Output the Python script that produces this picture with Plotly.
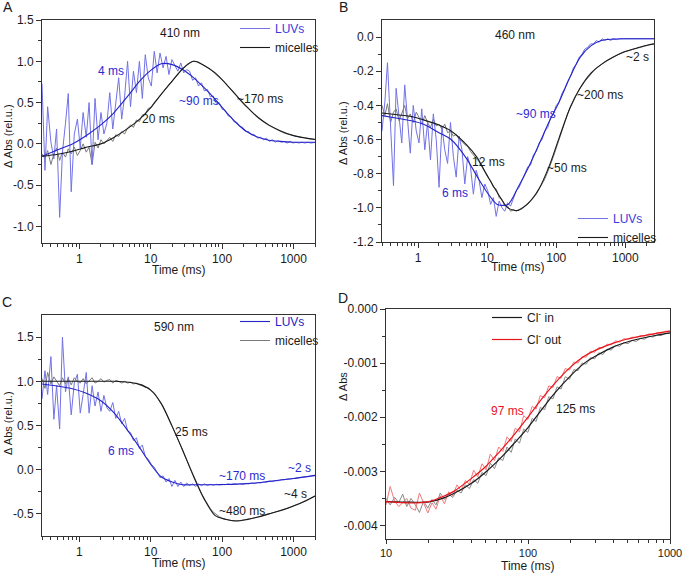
import math
import plotly.graph_objects as go

# ---------------- data ----------------
# common time grid (ms) of the raw traces in panels A-C
t_raw = [0.30, 0.33, 0.36, 0.40, 0.44, 0.48, 0.53, 0.58, 0.64, 0.70,
         0.77, 0.85, 0.94, 1.03, 1.13, 1.25, 1.37, 1.51, 1.66, 1.83,
         2.01, 2.21, 2.43, 2.67, 2.94, 3.24, 3.56, 3.92, 4.31, 4.74,
         5.21, 5.73, 6.31, 6.94, 7.63, 8.39, 9.23, 10.2, 11.2, 12.3,
         13.5, 14.9, 16.4, 18.0, 19.8, 21.8, 24.0, 26.4, 29.0, 31.9,
         35.1, 38.6, 42.5, 46.7, 51.4, 56.5, 62.2, 68.4, 75.2, 82.8,
         91.0, 100, 110, 121, 133, 146, 161, 177, 195, 214,
         236, 259, 285, 314, 345, 380, 418, 459, 505, 556,
         612, 673, 740, 814, 895, 985, 1083, 1191, 1310, 1441,
         1585, 1744, 1918, 2110, 2321, 2553, 2808, 3000]

# time points of the fitted curves (panels A-C)
t_fit = [0.3, 0.5, 0.8, 1.2, 2, 3, 5, 7, 10, 14, 20, 28, 40, 56, 80, 110,
         160, 220, 320, 450, 650, 1000, 1500, 2200, 3000]

# Panel A, 410 nm
a_luv_raw = [0.73, -0.32, 0.45, 0.02, -0.18, 0.18, -0.89, -0.10, 0.25, 0.61,
             -0.58, 0.12, 0.30, -0.05, 0.38, 0.08, 0.50, -0.25, 0.55, 0.05,
             0.38, 0.12, 0.25, 0.62, 0.18, 0.48, 0.80, 0.30, 0.58, 1.00,
             0.45, 0.88, 0.62, 1.00, 0.55, 1.08, 0.80, 0.70, 1.12, 0.86,
             1.10, 0.92, 1.06, 0.84, 1.02, 0.95, 0.88, 0.98, 0.86, 0.90,
             0.88, 0.77, 0.80, 0.70, 0.74, 0.64, 0.66, 0.57, 0.58, 0.49,
             0.50, 0.42, 0.41, 0.34, 0.33, 0.27, 0.26, 0.21, 0.20, 0.15,
             0.15, 0.11, 0.11, 0.07, 0.08, 0.05, 0.07, 0.03, 0.05, 0.02,
             0.04, 0.02, 0.03, 0.01, 0.03, 0.01, 0.02, 0.01, 0.02, 0.01,
             0.02, 0.01, 0.02, 0.02, 0.02, 0.02, 0.02, 0.02]
a_mic_raw = [-0.12, -0.18, -0.08, -0.25, -0.12, -0.05, -0.20, -0.10, -0.16, -0.06,
             -0.12, -0.04, -0.14, -0.08, 0.00, -0.10, -0.04, -0.25, 0.02, -0.05,
             0.05, 0.00, 0.04, 0.08, 0.03, 0.11, 0.09, 0.15, 0.12, 0.19,
             0.23, 0.20, 0.29, 0.27, 0.35, 0.36, 0.43, 0.44, 0.50, 0.54,
             0.58, 0.63, 0.67, 0.72, 0.76, 0.81, 0.85, 0.89, 0.93, 0.96,
             0.98, 1.00, 1.00, 0.99, 0.97, 0.95, 0.93, 0.90, 0.87, 0.84,
             0.81, 0.78, 0.74, 0.70, 0.66, 0.62, 0.58, 0.54, 0.50, 0.46,
             0.42, 0.39, 0.35, 0.32, 0.29, 0.26, 0.24, 0.22, 0.20, 0.18,
             0.16, 0.15, 0.13, 0.12, 0.11, 0.10, 0.09, 0.085, 0.08, 0.07,
             0.065, 0.06, 0.055, 0.05, 0.05, 0.05, 0.05, 0.05]
a_luv_fit = [-0.15, -0.07, 0.0, 0.09, 0.23, 0.37, 0.60, 0.76, 0.89, 0.97, 0.96, 0.90,
             0.80, 0.68, 0.54, 0.40, 0.25, 0.15, 0.08, 0.045, 0.03, 0.02, 0.02, 0.02, 0.02]
a_mic_fit = [-0.15, -0.125, -0.09, -0.045, 0.0, 0.075, 0.20, 0.30, 0.44, 0.60, 0.76, 0.91,
             1.00, 0.95, 0.86, 0.74, 0.58, 0.45, 0.32, 0.23, 0.16, 0.10, 0.07, 0.05, 0.045]

# Panel B, 460 nm
b_luv_raw = [-0.55, -0.38, -0.15, -0.52, -0.87, -0.30, -0.45, -0.62, -0.28, -0.50,
             -0.68, -0.40, -0.55, -0.62, -0.42, -0.66, -0.50, -0.72, -0.45, -0.60,
             -0.88, -0.52, -0.66, -0.74, -0.50, -0.70, -0.82, -0.58, -0.66, -0.86,
             -0.70, -0.76, -0.92, -0.78, -0.84, -0.94, -0.86, -0.90, -0.98, -0.94,
             -1.05, -0.96, -1.00, -1.02, -0.97, -0.99, -0.94, -0.90, -0.88, -0.84,
             -0.81, -0.76, -0.75, -0.69, -0.67, -0.62, -0.60, -0.55, -0.53, -0.47,
             -0.45, -0.40, -0.38, -0.33, -0.30, -0.26, -0.23, -0.18, -0.16, -0.12,
             -0.10, -0.07, -0.06, -0.04, -0.04, -0.02, -0.03, -0.01, -0.02, -0.01,
             -0.02, -0.01, -0.015, -0.01, -0.01, -0.01, -0.01, -0.01, -0.01, -0.01,
             -0.01, -0.01, -0.01, -0.01, -0.01, -0.01, -0.01, -0.01]
b_mic_raw = [-0.40, -0.46, -0.39, -0.50, -0.44, -0.42, -0.49, -0.45, -0.40, -0.48,
             -0.45, -0.50, -0.44, -0.47, -0.51, -0.46, -0.50, -0.53, -0.48, -0.52,
             -0.51, -0.54, -0.51, -0.56, -0.55, -0.58, -0.57, -0.60, -0.61, -0.63,
             -0.64, -0.67, -0.69, -0.71, -0.73, -0.76, -0.79, -0.82, -0.84, -0.88,
             -0.89, -0.94, -0.95, -0.99, -0.99, -1.02, -1.01, -1.02, -1.01, -1.00,
             -0.99, -0.98, -0.96, -0.94, -0.92, -0.89, -0.86, -0.83, -0.79, -0.75,
             -0.70, -0.65, -0.60, -0.54, -0.49, -0.45, -0.41, -0.37, -0.34, -0.31,
             -0.28, -0.26, -0.24, -0.22, -0.20, -0.18, -0.17, -0.155, -0.145, -0.135,
             -0.125, -0.115, -0.105, -0.10, -0.09, -0.085, -0.08, -0.075, -0.07, -0.065,
             -0.06, -0.055, -0.05, -0.047, -0.044, -0.041, -0.038, -0.036]
b_luv_fit = [-0.46, -0.475, -0.49, -0.51, -0.56, -0.60, -0.71, -0.81, -0.91, -0.98, -0.98,
             -0.88, -0.76, -0.63, -0.49, -0.38, -0.23, -0.12, -0.05, -0.02, -0.012, -0.01,
             -0.01, -0.01, -0.01]
b_mic_fit = [-0.445, -0.455, -0.465, -0.485, -0.515, -0.55, -0.63, -0.70, -0.81, -0.91, -1.00,
             -1.015, -0.97, -0.89, -0.75, -0.59, -0.41, -0.30, -0.21, -0.16, -0.12, -0.085,
             -0.063, -0.045, -0.036]

# Panel C, 590 nm
c_luv_raw = [0.80, 1.12, 0.85, 1.28, 0.57, 0.95, 0.46, 1.50, 0.88, 1.05,
             0.62, 0.98, 1.08, 0.64, 0.85, 1.10, 0.64, 0.95, 0.72, 0.88,
             0.66, 0.84, 0.70, 0.66, 0.76, 0.58, 0.66, 0.52, 0.58, 0.44,
             0.42, 0.33, 0.36, 0.24, 0.28, 0.15, 0.12, 0.06, 0.03, -0.03,
             -0.09, -0.07, -0.14, -0.10, -0.19, -0.12, -0.19, -0.14, -0.19, -0.15,
             -0.18, -0.16, -0.19, -0.16, -0.18, -0.16, -0.18, -0.165, -0.175, -0.165,
             -0.17, -0.165, -0.17, -0.16, -0.17, -0.16, -0.165, -0.16, -0.165, -0.155,
             -0.16, -0.15, -0.155, -0.145, -0.15, -0.14, -0.14, -0.13, -0.135, -0.125,
             -0.125, -0.115, -0.115, -0.105, -0.105, -0.10, -0.095, -0.09, -0.085, -0.08,
             -0.075, -0.07, -0.065, -0.06, -0.057, -0.053, -0.05, -0.05]
c_mic_raw = [1.03, 0.92, 1.10, 0.97, 1.05, 1.00, 0.95, 1.04, 0.97, 1.03,
             0.96, 1.04, 1.00, 0.98, 1.03, 0.97, 1.01, 1.04, 0.98, 1.00,
             1.03, 0.99, 1.01, 1.02, 0.98, 1.01, 1.00, 0.98, 1.00, 0.98,
             0.99, 0.97, 0.98, 0.96, 0.96, 0.93, 0.93, 0.89, 0.87, 0.82,
             0.77, 0.71, 0.64, 0.57, 0.50, 0.43, 0.35, 0.27, 0.19, 0.11,
             0.03, -0.05, -0.12, -0.20, -0.27, -0.33, -0.39, -0.44, -0.48, -0.51,
             -0.53, -0.55, -0.56, -0.57, -0.575, -0.58, -0.58, -0.575, -0.57, -0.565,
             -0.56, -0.55, -0.545, -0.535, -0.53, -0.52, -0.51, -0.50, -0.49, -0.48,
             -0.47, -0.46, -0.45, -0.44, -0.425, -0.41, -0.40, -0.385, -0.37, -0.355,
             -0.34, -0.32, -0.305, -0.29, -0.27, -0.25, -0.23, -0.22]
c_luv_fit = [0.97, 0.945, 0.915, 0.87, 0.78, 0.65, 0.42, 0.25, 0.06, -0.08, -0.14, -0.17,
             -0.17, -0.17, -0.17, -0.168, -0.163, -0.158, -0.148, -0.132, -0.117, -0.10,
             -0.08, -0.06, -0.05]
c_mic_fit = [1.0, 1.0, 1.0, 1.0, 1.0, 1.0, 0.99, 0.965, 0.90, 0.75, 0.49, 0.22, -0.08,
             -0.33, -0.52, -0.56, -0.58, -0.565, -0.535, -0.50, -0.465, -0.41, -0.35,
             -0.28, -0.22]

# Panel D (values in units of 10^-3 Abs)
d_t_raw = [10, 10.7, 11.5, 12.3, 13.1, 14.0, 15.0, 16.1, 17.2, 18.4,
           19.7, 21.1, 22.5, 24.1, 25.8, 27.6, 29.5, 31.6, 33.8, 36.2,
           38.7, 41.4, 44.3, 47.4, 50.7, 54.3, 58.1, 62.1, 66.5, 71.1,
           76.1, 81.4, 87.1, 93.2, 99.8, 107, 114, 122, 131, 140,
           150, 160, 171, 183, 196, 210, 225, 240, 257, 275,
           295, 315, 337, 361, 386, 413, 442, 473, 506, 541,
           579, 620, 663, 710, 759, 812, 869, 930, 995]
d_out_raw_m = [-3.62, -3.28, -3.55, -3.65, -3.58, -3.50, -3.68, -3.72, -3.40, -3.60,
               -3.77, -3.58, -3.70, -3.45, -3.60, -3.38, -3.45, -3.25, -3.36, -3.17,
               -3.24, -2.98, -3.10, -2.86, -2.97, -2.68, -2.80, -2.55, -2.63, -2.36,
               -2.45, -2.20, -2.27, -1.97, -2.04, -1.80, -1.85, -1.60, -1.64, -1.42,
               -1.45, -1.25, -1.28, -1.10, -1.13, -0.98, -1.00, -0.88, -0.89, -0.78,
               -0.80, -0.71, -0.72, -0.65, -0.66, -0.59, -0.61, -0.55, -0.56, -0.52,
               -0.53, -0.49, -0.50, -0.46, -0.47, -0.44, -0.45, -0.41, -0.41]
d_in_raw_m = [-3.50, -3.62, -3.48, -3.58, -3.42, -3.65, -3.50, -3.62, -3.76, -3.55,
              -3.68, -3.52, -3.62, -3.40, -3.52, -3.42, -3.48, -3.35, -3.40, -3.25,
              -3.32, -3.15, -3.22, -3.02, -3.08, -2.85, -2.95, -2.75, -2.80, -2.55,
              -2.65, -2.40, -2.48, -2.22, -2.28, -2.02, -2.08, -1.82, -1.86, -1.62,
              -1.66, -1.44, -1.48, -1.25, -1.30, -1.12, -1.14, -1.00, -1.02, -0.90,
              -0.92, -0.81, -0.84, -0.74, -0.76, -0.67, -0.69, -0.62, -0.64, -0.58,
              -0.60, -0.54, -0.56, -0.50, -0.52, -0.48, -0.49, -0.45, -0.45]
d_t_fit = [10, 15, 20, 25, 30, 40, 50, 60, 70, 80, 100, 120, 150, 200, 250, 300, 400,
           500, 600, 800, 1000]
d_out_fit_m = [-3.56, -3.585, -3.56, -3.47, -3.37, -3.13, -2.92, -2.70, -2.50, -2.32,
               -2.00, -1.72, -1.41, -1.07, -0.87, -0.76, -0.63, -0.555, -0.51, -0.45, -0.41]
d_in_fit_m = [-3.56, -3.57, -3.565, -3.50, -3.41, -3.22, -3.02, -2.83, -2.65, -2.48,
              -2.19, -1.92, -1.59, -1.23, -1.00, -0.87, -0.70, -0.61, -0.555, -0.485, -0.44]

# tick labels
x_ticks_abc = [1, 10, 100, 1000]
x_ticklabels_abc = ["1", "10", "100", "1000"]
x_ticks_d = [10, 100, 1000]
x_ticklabels_d = ["10", "100", "1000"]
y_ticks_a = [-1.0, -0.5, 0.0, 0.5, 1.0, 1.5]
y_ticklabels_a = ["-1.0", "-0.5", "0.0", "0.5", "1.0", "1.5"]
y_ticks_b = [-1.2, -1.0, -0.8, -0.6, -0.4, -0.2, 0.0]
y_ticklabels_b = ["-1.2", "-1.0", "-0.8", "-0.6", "-0.4", "-0.2", "0.0"]
y_ticks_c = [-0.5, 0.0, 0.5, 1.0, 1.5]
y_ticklabels_c = ["-0.5", "0.0", "0.5", "1.0", "1.5"]
y_ticks_d = [-0.004, -0.003, -0.002, -0.001, 0.0]
y_ticklabels_d = ["-0.004", "-0.003", "-0.002", "-0.001", "0.000"]

# ---------------- styling ----------------
W, H = 683, 573
FONT = "Liberation Sans, Arial, sans-serif"
BLUE_RAW = "#7272e6"
BLUE_FIT = "#2424c8"
GRAY_RAW = "#7a7a7a"
BLACK_FIT = "#1a1a1a"
RED_FIT = "#e8141c"
RED_RAW = "#f07a7a"
BLUE_TXT = "#2a2ad2"
TXT = "#1a1a1a"


def px_x(p):
    return p / W


def px_y(p):
    return 1 - p / H


D_out_raw = [v * 1e-3 for v in d_out_raw_m]
D_in_raw = [v * 1e-3 for v in d_in_raw_m]
D_out_fit = [v * 1e-3 for v in d_out_fit_m]
D_in_fit = [v * 1e-3 for v in d_in_fit_m]

fig = go.Figure()


def line(x, y, ax, color, width, name=None, legend=None, smooth=False, show=False, group=None):
    fig.add_trace(go.Scatter(
        x=x, y=y, mode="lines", xaxis="x" + ax, yaxis="y" + ax,
        line=dict(color=color, width=width, shape="spline" if smooth else "linear",
                  smoothing=0.8 if smooth else None),
        name=name, showlegend=show, legend=legend, legendgroup=group, hoverinfo="skip"))


# Panel A
line(t_raw, a_mic_raw, "", GRAY_RAW, 1)
line(t_raw, a_luv_raw, "", BLUE_RAW, 1, name="<span style='color:#3a3ae0'>LUVs</span>",
     legend="legend", show=True)
line(t_fit, a_luv_fit, "", BLUE_FIT, 1.1, smooth=True)
line(t_fit, a_mic_fit, "", BLACK_FIT, 1.1, name="micelles", legend="legend", smooth=True, show=True)
# Panel B
line(t_raw, b_mic_raw, "2", GRAY_RAW, 1)
line(t_raw, b_luv_raw, "2", BLUE_RAW, 1, name="<span style='color:#3a3ae0'>LUVs</span>",
     legend="legend2", show=True)
line(t_fit, b_luv_fit, "2", BLUE_FIT, 1.1, smooth=True)
line(t_fit, b_mic_fit, "2", BLACK_FIT, 1.1, name="micelles", legend="legend2", smooth=True, show=True)
# Panel C
line(t_raw, c_luv_raw, "3", BLUE_RAW, 1)
line(t_raw, c_mic_raw, "3", GRAY_RAW, 1, name="micelles", legend="legend3", show=True)
line(t_fit, c_luv_fit, "3", BLUE_FIT, 1.1, name="<span style='color:#2424c8'>LUVs</span>",
     legend="legend3", smooth=True, show=True)
line(t_fit, c_mic_fit, "3", BLACK_FIT, 1.1, smooth=True)
# Panel D
line(d_t_raw, D_in_raw, "4", "#8a8a8a", 1)
line(d_t_raw, D_out_raw, "4", RED_RAW, 1)
line(d_t_fit, D_in_fit, "4", BLACK_FIT, 1.2, name="Cl<sup>-</sup> in", legend="legend4",
     smooth=True, show=True, group="in")
line(d_t_fit, D_out_fit, "4", RED_FIT, 1.2, name="Cl<sup>-</sup> out", legend="legend4",
     smooth=True, show=True, group="out")


def xax(dom, rng, tv, tt, minor_vals, tlen=5, fsize=12):
    return dict(type="log", domain=dom, range=rng, tickmode="array", tickvals=tv,
                ticktext=tt, ticks="outside", ticklen=tlen, tickwidth=1, tickcolor="#333",
                showline=True, linecolor="#333", linewidth=1, mirror=True,
                showgrid=False, zeroline=False, automargin=False,
                tickfont=dict(size=fsize, color=TXT, family=FONT),
                minor=dict(tickmode="array", tickvals=minor_vals, ticks="outside",
                           ticklen=3, tickcolor="#333", showgrid=False))


def yax(dom, rng, tv, tt, minor_vals, anchor):
    return dict(domain=dom, range=rng, tickmode="array", tickvals=tv, ticktext=tt,
                ticks="outside", ticklen=5, tickwidth=1, tickcolor="#333",
                showline=True, linecolor="#333", linewidth=1, mirror=True,
                showgrid=False, zeroline=False, automargin=False, anchor=anchor,
                tickfont=dict(size=12, color=TXT, family=FONT),
                minor=dict(tickmode="array", tickvals=minor_vals, ticks="outside",
                           ticklen=3, tickcolor="#333", showgrid=False))


minor_log = [0.3, 0.4, 0.5, 0.6, 0.7, 0.8, 0.9, 2, 3, 4, 5, 6, 7, 8, 9,
             20, 30, 40, 50, 60, 70, 80, 90, 200, 300, 400, 500, 600, 700, 800, 900,
             2000, 3000]
minor_log_d = [20, 30, 40, 50, 60, 70, 80, 90, 200, 300, 400, 500, 600, 700, 800, 900]

lg = math.log10
fig.update_layout(
    width=W, height=H, autosize=False,
    margin=dict(l=0, r=0, t=0, b=0),
    paper_bgcolor="white", plot_bgcolor="white",
    font=dict(family=FONT, size=12, color=TXT),
    xaxis=xax([px_x(42), px_x(315)], [lg(0.3), lg(2000)], x_ticks_abc, x_ticklabels_abc, minor_log),
    yaxis=yax([px_y(243), px_y(20)], [-1.2, 1.5], y_ticks_a, y_ticklabels_a,
              [-0.75, -0.25, 0.25, 0.75, 1.25], "x"),
    xaxis2=xax([px_x(382), px_x(654)], [lg(0.3), lg(2600)], x_ticks_abc, x_ticklabels_abc, minor_log),
    yaxis2=yax([px_y(242), px_y(20)], [-1.2, 0.1], y_ticks_b, y_ticklabels_b,
               [-1.1, -0.9, -0.7, -0.5, -0.3, -0.1], "x2"),
    xaxis3=xax([px_x(42), px_x(315)], [lg(0.3), lg(2000)], x_ticks_abc, x_ticklabels_abc, minor_log),
    yaxis3=yax([px_y(536), px_y(315)], [-0.75, 1.75], y_ticks_c, y_ticklabels_c,
               [-0.25, 0.25, 0.75, 1.25], "x3"),
    xaxis4=xax([px_x(386), px_x(670)], [1, 3], x_ticks_d, x_ticklabels_d, minor_log_d, 4, 11),
    yaxis4=yax([px_y(539), px_y(309)], [-0.00425, 0.0], y_ticks_d, y_ticklabels_d,
               [-0.0035, -0.0025, -0.0015, -0.0005], "x4"),
)
fig.update_layout(xaxis=dict(anchor="y"), xaxis2=dict(anchor="y2"),
                  xaxis3=dict(anchor="y3"), xaxis4=dict(anchor="y4"))

leg_common = dict(xanchor="left", yanchor="top", bgcolor="rgba(0,0,0,0)",
                  font=dict(size=12, family=FONT, color=TXT), itemwidth=30,
                  tracegroupgap=0, borderwidth=0)
fig.update_layout(
    legend=dict(x=px_x(235), y=px_y(14), **leg_common),
    legend2=dict(x=px_x(573), y=px_y(204), **leg_common),
    legend3=dict(x=px_x(235), y=px_y(307), traceorder="reversed", **leg_common),
    legend4=dict(x=px_x(487), y=px_y(303), **dict(leg_common, tracegroupgap=3)),
)

annots = []


def note(text, t, y, ax, color=TXT, size=12):
    annots.append(dict(text=text, x=lg(t), y=y, xref="x" + ax, yref="y" + ax,
                       xanchor="center", yanchor="middle",
                       showarrow=False, font=dict(size=size, color=color, family=FONT)))


note("410 nm", 26, 1.34, "")
note("4 ms", 2.76, 0.88, "", BLUE_TXT)
note("~90 ms", 46.9, 0.517, "", BLUE_TXT)
note("~170 ms", 334, 0.54, "")
note("20 ms", 12.9, 0.30, "")

note("460 nm", 25, 0.012, "2")
note("~2 s", 1520, -0.119, "2")
note("~200 ms", 432, -0.341, "2")
note("~90 ms", 50.3, -0.452, "2", BLUE_TXT)
note("12 ms", 10.6, -0.731, "2")
note("~50 ms", 141, -0.764, "2")
note("6 ms", 3.41, -0.914, "2", BLUE_TXT)

note("590 nm", 21.4, 1.613, "3")
note("25 ms", 36.8, 0.427, "3")
note("6 ms", 3.81, 0.208, "3", BLUE_TXT)
note("~170 ms", 192, -0.071, "3", BLUE_TXT)
note("~2 s", 1194, 0.024, "3", BLUE_TXT)
note("~4 s", 1060, -0.28, "3")
note("~480 ms", 192, -0.466, "3")

note("97 ms", 71.8, -0.001893, "4", RED_FIT)
note("125 ms", 215, -0.001848, "4")


def paper_text(text, x, y, size=12, angle=0):
    annots.append(dict(text=text, x=px_x(x), y=px_y(y), xref="paper", yref="paper",
                       xanchor="center", yanchor="middle",
                       showarrow=False, textangle=angle,
                       font=dict(size=size, color=TXT, family=FONT)))


paper_text("A", 8, 7, 14)
paper_text("B", 343, 7, 14)
paper_text("C", 7, 302, 14)
paper_text("D", 343, 298, 14)
paper_text("Time (ms)", 179, 270)
paper_text("Time (ms)", 518, 267)
paper_text("Time (ms)", 179, 563)
paper_text("Time (ms)", 528, 565.5)
paper_text("Δ Abs (rel.u.)", 8, 136, 11, -90)
paper_text("Δ Abs (rel.u.)", 343, 133, 11, -90)
paper_text("Δ Abs (rel.u.)", 8, 423, 11, -90)
paper_text("Δ Abs", 343, 387, 11, -90)

fig.update_layout(annotations=annots)
fig.write_html("out.html", config={"displayModeBar": False},
               post_script="document.body.style.margin='0px';document.body.style.overflow='hidden';")
